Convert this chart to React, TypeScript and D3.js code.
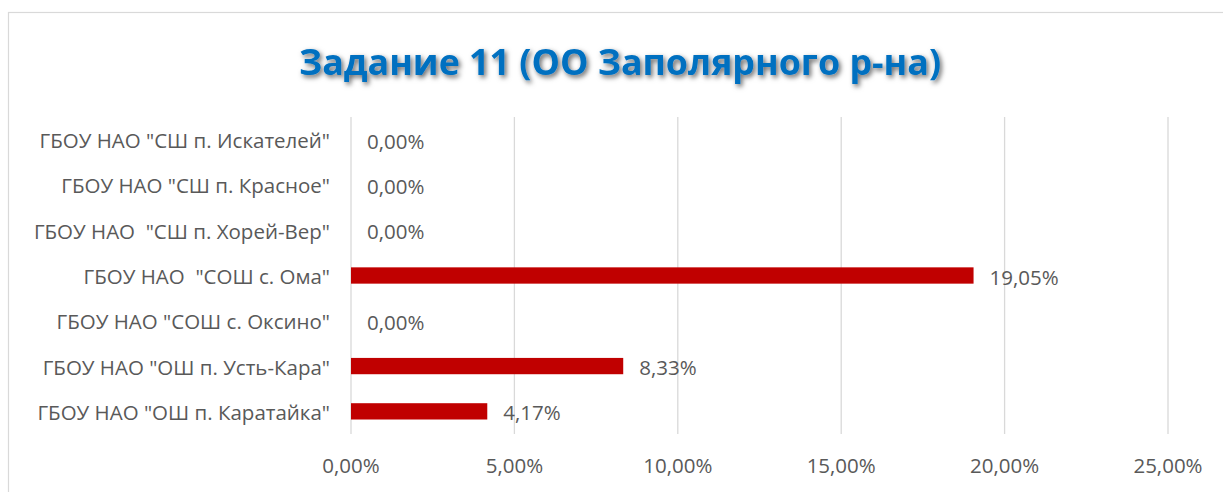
import React, { useRef, useEffect } from 'react';
import * as d3 from 'd3';

const categories = [
  'ГБОУ НАО "СШ п. Искателей"',
  'ГБОУ НАО "СШ п. Красное"',
  'ГБОУ НАО  "СШ п. Хорей-Вер"',
  'ГБОУ НАО  "СОШ с. Ома"',
  'ГБОУ НАО "СОШ с. Оксино"',
  'ГБОУ НАО "ОШ п. Усть-Кара"',
  'ГБОУ НАО "ОШ п. Каратайка"',
];
const values = [0, 0, 0, 19.05, 0, 8.33, 4.17];
const ticks = [0, 5, 10, 15, 20, 25];
const title = 'Задание 11 (ОО Заполярного р-на)';

const W = 1223;
const H = 492;

const ru = d3.formatLocale({ decimal: ',', thousands: ' ', grouping: [3], currency: ['', ' ₽'] });
const pct = (v: number) => ru.format('.2f')(v) + '%';

const App = () => {
  const svgRef = useRef<SVGSVGElement>(null);

  useEffect(() => {
    const svg = d3.select(svgRef.current);
    svg.selectAll('*').remove();
    const font = 'Open Sans, sans-serif';
    const grey = '#595959';
    const fs = 20.5;

    const x = d3.scaleLinear().domain([0, 25]).range([351, 1168]);
    const y = d3.scaleBand().domain(categories).range([117, 434]).paddingInner(0.64).paddingOuter(0.32);

    const defs = svg.append('defs');
    const f = defs.append('filter').attr('id', 'sh').attr('x', '-10%').attr('y', '-30%').attr('width', '120%').attr('height', '160%');
    f.append('feDropShadow').attr('dx', 2).attr('dy', 2.5).attr('stdDeviation', 2.6)
      .attr('flood-color', '#000').attr('flood-opacity', 0.6);

    svg.append('rect').attr('x', 8.5).attr('y', 12.5).attr('width', 1220).attr('height', 490)
      .attr('fill', '#fff').attr('stroke', '#d9d9d9').attr('stroke-width', 1.2);

    svg.append('text').attr('x', 620).attr('y', 75).attr('text-anchor', 'middle')
      .attr('font-family', font).attr('font-weight', 700).attr('font-size', 35.8)
      .attr('fill', '#0070C0').attr('filter', 'url(#sh)').text(title);

    svg.append('g').selectAll('line').data(ticks).join('line')
      .attr('x1', d => x(d)).attr('x2', d => x(d)).attr('y1', 117).attr('y2', 434)
      .attr('stroke', '#d9d9d9').attr('stroke-width', 1.3);

    svg.append('g').selectAll('text').data(ticks).join('text')
      .attr('x', d => x(d)).attr('y', 473).attr('text-anchor', 'middle')
      .attr('font-family', font).attr('font-size', fs).attr('fill', grey)
      .text(d => pct(d));

    svg.append('g').selectAll('rect').data(values).join('rect')
      .attr('x', x(0)).attr('y', (d, i) => y(categories[i])!)
      .attr('width', d => x(d) - x(0)).attr('height', y.bandwidth())
      .attr('fill', '#C00000');

    svg.append('g').selectAll('text').data(values).join('text')
      .attr('x', d => x(d) + 16).attr('y', (d, i) => y(categories[i])! + y.bandwidth() / 2 + 9)
      .attr('font-family', font).attr('font-size', fs).attr('fill', grey)
      .text(d => pct(d));

    svg.append('g').selectAll('text').data(categories).join('text')
      .attr('x', 330).attr('y', d => y(d)! + y.bandwidth() / 2 + 8.5).attr('text-anchor', 'end')
      .attr('font-family', font).attr('font-size', fs).attr('fill', grey)
      .attr('xml:space', 'preserve').style('white-space', 'pre')
      .text(d => d);
  }, []);

  return (
    <svg ref={svgRef} width={W} height={H} style={{ position: 'absolute', left: 0, top: 0 }} />
  );
};

export default App;
